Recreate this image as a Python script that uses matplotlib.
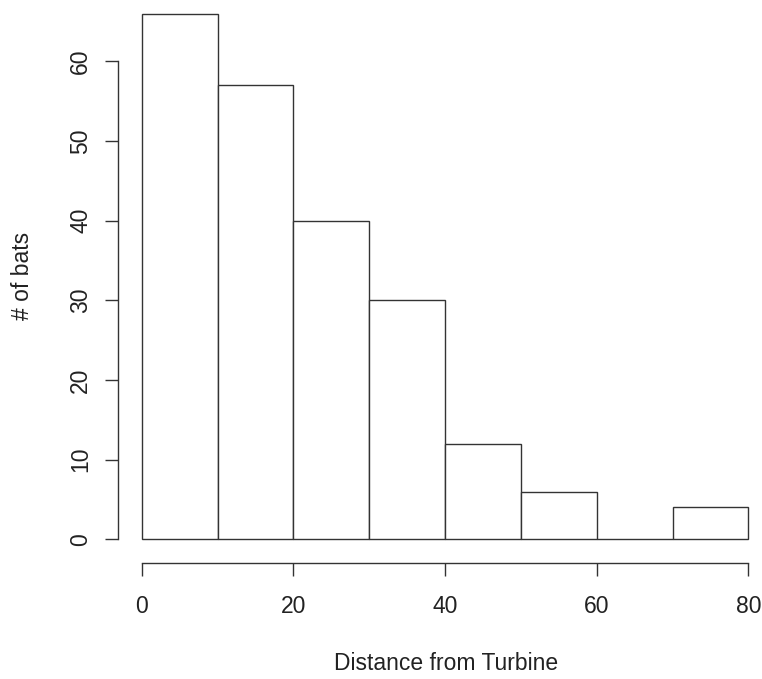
import matplotlib
matplotlib.use('Agg')
import matplotlib.pyplot as plt
import numpy as np

# histogram of bat carcass distances (R base-graphics look)
bin_edges = [0, 10, 20, 30, 40, 50, 60, 70, 80]
counts = [66, 57, 40, 30, 12, 6, 0, 4]
x_ticks = [0, 20, 40, 60, 80]
y_ticks = [0, 10, 20, 30, 40, 50, 60]
x_label = 'Distance from Turbine'
y_label = '# of bats'

LINE = '#333333'
TEXT = '#222222'
W, H = 762, 679

plt.rcParams['font.family'] = ['Liberation Sans', 'DejaVu Sans']

fig = plt.figure(figsize=(W / 100, H / 100), dpi=100, facecolor='white')

# axes box: left edge = y axis line, bottom edge = x axis line (pixels)
left_px, bottom_px = 118, 562.5
x0_px, sx = 141.7, 7.583     # pixel of x=0, pixels per unit
y0_px, sy = 539.3, 7.965     # pixel of y=0, pixels per unit

ax = fig.add_axes([left_px / W, (H - bottom_px) / H,
                   (W - left_px) / W, bottom_px / H])
ax.set_xlim((left_px - x0_px) / sx, (W - x0_px) / sx)
ax.set_ylim((y0_px - bottom_px) / sy, y0_px / sy)

edges = np.array(bin_edges)
ax.bar(edges[:-1], counts, width=np.diff(edges), align='edge',
       facecolor='white', edgecolor=LINE, linewidth=1.0)

for side in ['top', 'right']:
    ax.spines[side].set_visible(False)
ax.spines['left'].set_bounds(y_ticks[0], y_ticks[-1])
ax.spines['bottom'].set_bounds(x_ticks[0], x_ticks[-1])
for side in ['left', 'bottom']:
    ax.spines[side].set_color(LINE)
    ax.spines[side].set_linewidth(1.0)

ax.set_xticks(x_ticks)
ax.set_yticks(y_ticks)
ax.set_yticklabels([str(v) for v in y_ticks], rotation=90, va='center')
ax.tick_params(axis='both', direction='out', length=9.7, width=1.0,
               color=LINE, labelcolor=TEXT, labelsize=16.5)
ax.tick_params(axis='x', pad=14)
ax.tick_params(axis='y', pad=9)

fig.text(446 / W, 1 - 664 / H, x_label, ha='center', va='center',
         fontsize=16.5, color=TEXT)
fig.text(23 / W, 1 - 276 / H, y_label, ha='center', va='center',
         rotation=90, fontsize=16.5, color=TEXT)

fig.savefig('out.png', dpi=100, facecolor='white')
